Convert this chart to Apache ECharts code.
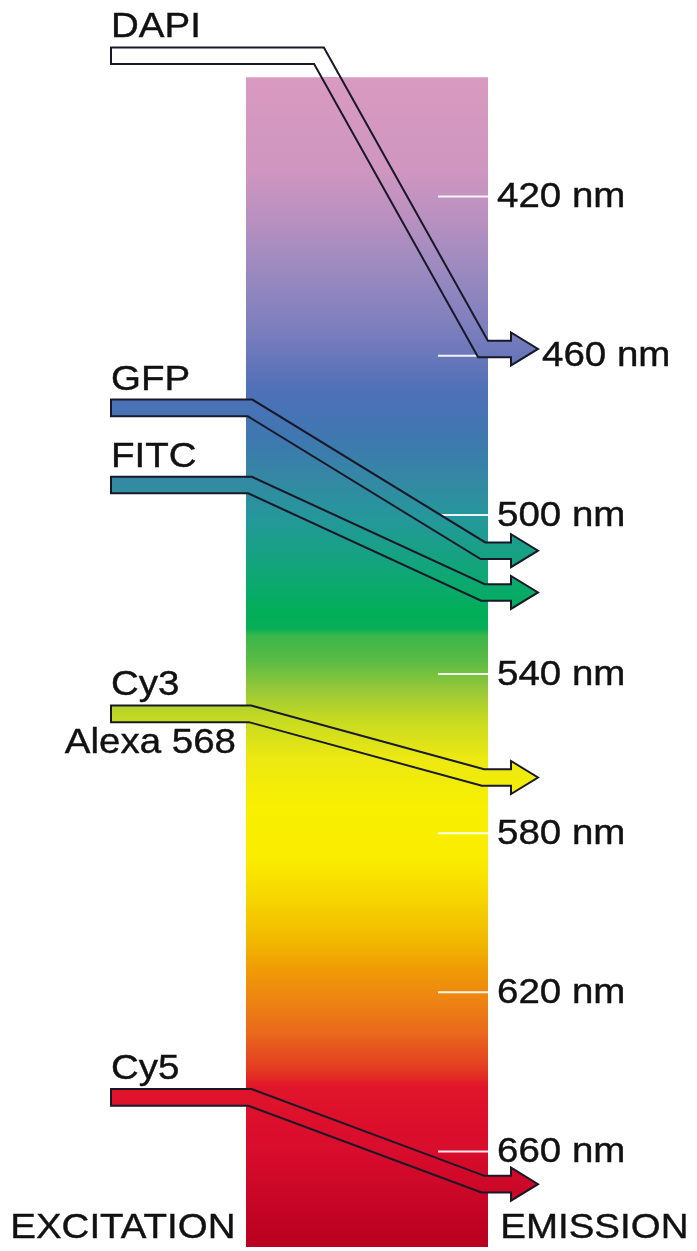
<!DOCTYPE html>
<html><head><meta charset="utf-8">
<script src="https://cdn.jsdelivr.net/npm/echarts@6/dist/echarts.min.js"></script>
<style>html,body{margin:0;padding:0;background:#fff}#c{width:697px;height:1251px}</style>
</head><body><div id="c"></div>
<script>
// ---------- DATA ----------
const dyeNames = ['DAPI', 'GFP', 'FITC', 'Cy3', 'Cy5'];
const dyeSubNames = ['', '', '', 'Alexa 568', ''];
const excitationNm = [384.6, 473.1, 492.5, 550.0, 646.4];
const emissionNm = [458.3, 509.0, 519.5, 566.0, 668.2];
const tickNm = [420, 460, 500, 540, 580, 620, 660];
const tickLabels = tickNm.map(v => v + ' nm');
const spectrumRange = [390, 684];
const spectrumNm = [390, 413, 426, 438, 451, 459, 469, 481, 491, 501, 514, 524, 528.5, 530.5, 537, 544, 551, 561, 574, 587, 597, 607, 614, 620, 630, 639, 644, 660, 684];
const spectrumColors = ['#d99ac0', '#cf96c0', '#b890c0', '#9c8abf', '#8280be', '#6c78ba', '#4e70b8', '#3e78b0', '#3488a4', '#24989a', '#10a678', '#02ae5a', '#06ae56', '#3cb64a', '#5cbc44', '#98c838', '#c4da22', '#ece812', '#f8f000', '#faec00', '#f6d400', '#f2b800', '#f09c04', '#ee8a10', '#ea6a1c', '#e43c22', '#e0142a', '#d80c2c', '#b80020'];
const sideTitles = ['EXCITATION', 'EMISSION'];

// ---------- LAYOUT / STYLE ----------
const W = 697, H = 1251;
const AX_MIN = 370.6, AX_MAX = 685;
const BAR_L = 246, BAR_R = 488;
const TICK_L = 438;
const TICK_LABEL_X = 497;
const TICK_LABEL_SHIFT = [0, 45, 0, 0, 0, 0, 0];
const ARROW_X0 = 111;
const BEND_X = [319, 250, 250, 250, 250];
const DIAG_END_X = 483, HEAD_BASE_X = 511, TIP_X = 538;
const HALF_BAND = 8.3, HALF_HEAD = 16.5;
const FONT = '35px "Liberation Sans", Arial, Helvetica, sans-serif';
const SX = 1.1;
const TEXT_COLOR = '#111111';
const OUTLINE = '#181828';

const chart = echarts.init(document.getElementById('c'), null, {renderer: 'canvas'});

function spectrumStopsPx(yOf, y0, y1) {
  return spectrumNm.map((nm, i) => ({offset: Math.min(1, Math.max(0, (yOf(nm) - y0) / (y1 - y0))), color: spectrumColors[i]}));
}

function txt(x, y, text, align) {
  return {type: 'text', x: x, y: y, scaleX: SX, scaleY: 1,
    style: {x: 0, y: 0, text: text, font: FONT, fill: TEXT_COLOR, align: align || 'left', verticalAlign: 'middle',
      stroke: TEXT_COLOR, lineWidth: 0.4}};
}

const option = {
  animation: false,
  backgroundColor: '#ffffff',
  grid: {left: 0, right: 0, top: 0, bottom: 0},
  xAxis: {type: 'value', min: 0, max: W, show: false},
  yAxis: {type: 'value', min: AX_MIN, max: AX_MAX, inverse: true, show: false},
  graphic: [
    {type: 'text', left: 10, top: 1211, scaleX: SX, style: {text: sideTitles[0], font: FONT, fill: TEXT_COLOR, stroke: TEXT_COLOR, lineWidth: 0.4}},
    {type: 'text', left: 500, top: 1211, scaleX: SX, style: {text: sideTitles[1], font: FONT, fill: TEXT_COLOR, stroke: TEXT_COLOR, lineWidth: 0.4}}
  ],
  series: [
    { // spectrum bar
      type: 'custom', silent: true,
      data: [[spectrumRange[0], spectrumRange[1]]],
      renderItem: function (params, api) {
        const yOf = nm => api.coord([0, nm])[1];
        const y0 = yOf(api.value(0)), y1 = yOf(api.value(1));
        return {type: 'rect', shape: {x: BAR_L, y: y0, width: BAR_R - BAR_L, height: y1 - y0},
          style: {fill: {type: 'linear', x: 0, y: y0, x2: 0, y2: y1, global: true, colorStops: spectrumStopsPx(yOf, y0, y1)}}};
      }
    },
    { // ticks
      type: 'custom', silent: true,
      data: tickNm.map((v, i) => [v, i]),
      renderItem: function (params, api) {
        const i = api.value(1);
        const y = api.coord([0, api.value(0)])[1];
        return {type: 'group', children: [
          {type: 'line', shape: {x1: TICK_L, y1: y, x2: BAR_R, y2: y}, style: {stroke: 'rgba(255,255,255,0.9)', lineWidth: 2}},
          txt(TICK_LABEL_X + TICK_LABEL_SHIFT[i], y + 1, tickLabels[i], 'left')
        ]};
      }
    },
    { // arrows
      type: 'custom', silent: true,
      data: dyeNames.map((n, i) => [excitationNm[i], emissionNm[i], i]),
      renderItem: function (params, api) {
        const yOf = nm => api.coord([0, nm])[1];
        const i = api.value(2);
        const yE = yOf(api.value(0)), yM = yOf(api.value(1));
        const bx = BEND_X[i];
        const phi = Math.atan2(yM - yE, DIAG_END_X - bx);
        const d = HALF_BAND * Math.tan(phi / 2);
        const h = HALF_BAND;
        const pts = [
          [ARROW_X0, yE - h], [bx + d, yE - h], [DIAG_END_X + d, yM - h], [HEAD_BASE_X, yM - h],
          [HEAD_BASE_X, yM - HALF_HEAD], [TIP_X, yM], [HEAD_BASE_X, yM + HALF_HEAD], [HEAD_BASE_X, yM + h],
          [DIAG_END_X - d, yM + h], [bx - d, yE + h], [ARROW_X0, yE + h]
        ];
        const barTop = yOf(spectrumRange[0]);
        const stops = [{offset: 0, color: '#ffffff'}, {offset: Math.max(0, (barTop - 0.5) / H), color: '#ffffff'}]
          .concat(spectrumStopsPx(yOf, 0, H));
        const children = [
          {type: 'polygon', shape: {points: pts},
            style: {fill: {type: 'linear', x: 0, y: 0, x2: 0, y2: H, global: true, colorStops: stops},
              stroke: OUTLINE, lineWidth: 2, lineJoin: 'miter'}},
          txt(ARROW_X0, yE - 28, dyeNames[i], 'left')
        ];
        if (dyeSubNames[i]) children.push(txt(BAR_L - 10, yE + 30, dyeSubNames[i], 'right'));
        return {type: 'group', children: children};
      }
    }
  ]
};
chart.setOption(option);
</script>
</body></html>
